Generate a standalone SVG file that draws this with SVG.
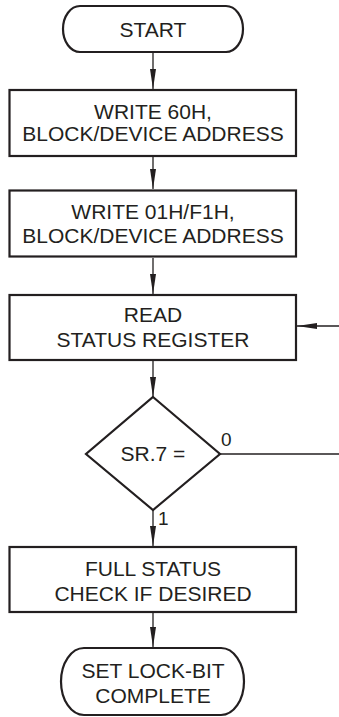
<svg xmlns="http://www.w3.org/2000/svg" width="339" height="717" viewBox="0 0 339 717">
<defs>
<style>
.shape{fill:#fff;stroke:#231f20;stroke-width:2.2}
.conn{fill:none;stroke:#231f20;stroke-width:1.3}
text{font-family:"Liberation Sans",Arial,sans-serif;font-size:21px;fill:#231f20;text-anchor:middle}
.lbl{font-size:19px;text-anchor:start}
</style>
<marker id="arr" markerUnits="userSpaceOnUse" markerWidth="21" markerHeight="8" refX="20" refY="3.5" orient="auto">
<path d="M0,0.5 L20,3.5 L0,6.5 Z" fill="#231f20"/>
</marker>
</defs>
<rect width="339" height="717" fill="#fff"/>
<g id="connectors">
<line class="conn" x1="153" y1="53" x2="153" y2="89" marker-end="url(#arr)"/>
<line class="conn" x1="153" y1="157" x2="153" y2="189" marker-end="url(#arr)"/>
<line class="conn" x1="153" y1="258" x2="153" y2="294" marker-end="url(#arr)"/>
<line class="conn" x1="153" y1="361" x2="153" y2="397" marker-end="url(#arr)"/>
<line class="conn" x1="153" y1="510" x2="153" y2="546" marker-end="url(#arr)"/>
<line class="conn" x1="153" y1="613" x2="153" y2="647" marker-end="url(#arr)"/>
<line class="conn" x1="220" y1="454" x2="339" y2="454"/>
<line class="conn" x1="339" y1="326" x2="297" y2="326" marker-end="url(#arr)"/>
<text class="lbl" x="221" y="446">0</text>
<text class="lbl" x="158" y="525">1</text>
</g>
<g id="start">
<path class="shape" d="M80,6 H226 A17,23 0 0 1 226,52 H80 A17,23 0 0 1 80,6 Z"/>
<text x="153" y="37">START</text>
</g>
<g id="write60">
<rect class="shape" x="9.5" y="90" width="286.5" height="66"/>
<text x="153" y="119">WRITE 60H,</text>
<text x="153" y="141">BLOCK/DEVICE ADDRESS</text>
</g>
<g id="write01">
<rect class="shape" x="9.5" y="190.5" width="286.5" height="66"/>
<text x="153" y="219">WRITE 01H/F1H,</text>
<text x="153" y="243">BLOCK/DEVICE ADDRESS</text>
</g>
<g id="readstatus">
<rect class="shape" x="9.5" y="295" width="286.5" height="65"/>
<text x="153" y="322">READ</text>
<text x="153" y="347">STATUS REGISTER</text>
</g>
<g id="decision">
<path class="shape" d="M153,397 L220,454 L153,510 L86,454 Z"/>
<text x="153" y="461">SR.7 =</text>
</g>
<g id="fullstatus">
<rect class="shape" x="9.5" y="547" width="286.5" height="65"/>
<text x="153" y="576">FULL STATUS</text>
<text x="153" y="601">CHECK IF DESIRED</text>
</g>
<g id="end">
<path class="shape" d="M84,648 H221 A23,33.5 0 0 1 221,715 H84 A23,33.5 0 0 1 84,648 Z"/>
<text x="153" y="678">SET LOCK-BIT</text>
<text x="153" y="703">COMPLETE</text>
</g>
</svg>
